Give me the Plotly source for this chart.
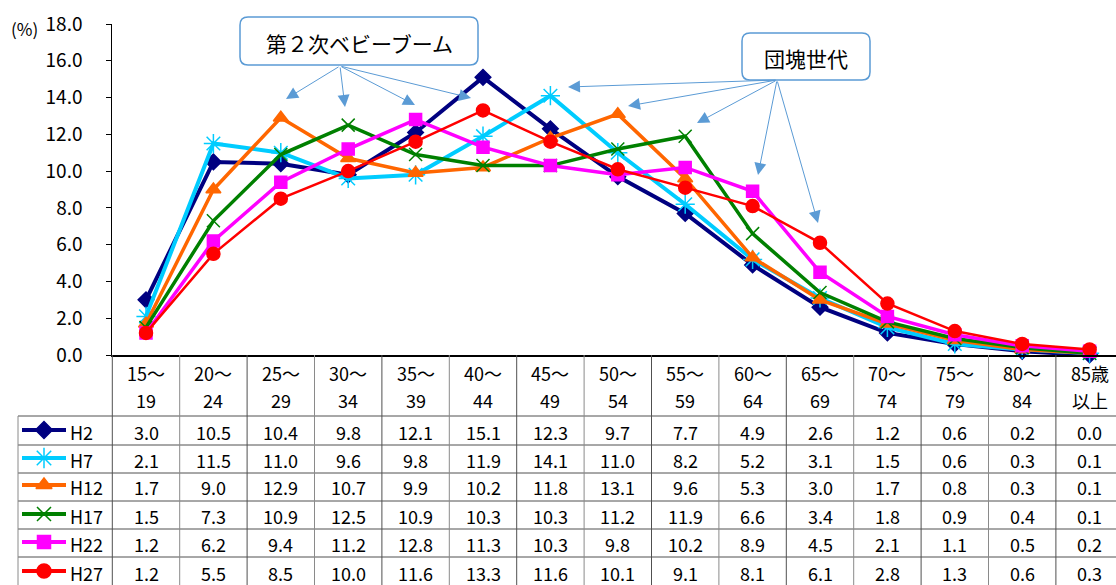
import plotly.graph_objects as go

# ---------------- data ----------------
cat_top = ["15～", "20～", "25～", "30～", "35～", "40～", "45～", "50～",
           "55～", "60～", "65～", "70～", "75～", "80～", "85歳"]
cat_bottom = ["19", "24", "29", "34", "39", "44", "49", "54",
              "59", "64", "69", "74", "79", "84", "以上"]
categories = [a + b for a, b in zip(cat_top, cat_bottom)]

series_names = ["H2", "H7", "H12", "H17", "H22", "H27"]
h2 = [3.0, 10.5, 10.4, 9.8, 12.1, 15.1, 12.3, 9.7, 7.7, 4.9, 2.6, 1.2, 0.6, 0.2, 0.0]
h7 = [2.1, 11.5, 11.0, 9.6, 9.8, 11.9, 14.1, 11.0, 8.2, 5.2, 3.1, 1.5, 0.6, 0.3, 0.1]
h12 = [1.7, 9.0, 12.9, 10.7, 9.9, 10.2, 11.8, 13.1, 9.6, 5.3, 3.0, 1.7, 0.8, 0.3, 0.1]
h17 = [1.5, 7.3, 10.9, 12.5, 10.9, 10.3, 10.3, 11.2, 11.9, 6.6, 3.4, 1.8, 0.9, 0.4, 0.1]
h22 = [1.2, 6.2, 9.4, 11.2, 12.8, 11.3, 10.3, 9.8, 10.2, 8.9, 4.5, 2.1, 1.1, 0.5, 0.2]
h27 = [1.2, 5.5, 8.5, 10.0, 11.6, 13.3, 11.6, 10.1, 9.1, 8.1, 6.1, 2.8, 1.3, 0.6, 0.3]
series_values = [h2, h7, h12, h17, h22, h27]

y_ticks = [0, 2, 4, 6, 8, 10, 12, 14, 16, 18]
y_tick_labels = ["0.0", "2.0", "4.0", "6.0", "8.0", "10.0", "12.0", "14.0", "16.0", "18.0"]

# ---------------- styles ----------------
W, H = 1116, 585
FONT = "Noto Sans CJK JP"
colors = ["#000080", "#00CCFF", "#FF6600", "#008000", "#FF00FF", "#FF0000"]
symbols = ["diamond", "asterisk-open", "triangle-up", "x-thin-open", "square", "circle"]
msizes = [12, 16, 13, 13, 12, 13]
lwidths = [4, 4, 3.5, 3.5, 3.5, 2.5]

PLOT_L, PLOT_T, PLOT_B = 112.3, 24, 355
COL_W = 67.4
PX_PER_UNIT = (PLOT_B - PLOT_T) / 18.0
TFS = 18


def px(x):
    return x / W


def py(y):
    return 1 - y / H


def dx(x):
    return (x - PLOT_L) / COL_W - 0.5


def dy(y):
    return (PLOT_B - y) / PX_PER_UNIT


fig = go.Figure()

for name, vals, c, s, ms, lw in zip(series_names, series_values, colors, symbols, msizes, lwidths):
    fig.add_trace(go.Scatter(
        x=categories, y=vals, mode="lines+markers", name=name,
        line=dict(color=c, width=lw),
        marker=dict(symbol=s, size=ms, color=c, line=dict(color=c, width=1.5)),
        showlegend=False, cliponaxis=False,
    ))

# legend samples in table (pixel-space overlay axes)
row_centers = [432, 460, 487, 516, 544, 573]
for name, c, s, ms, lw, yc in zip(series_names, colors, symbols, msizes, lwidths, row_centers):
    fig.add_trace(go.Scatter(
        x=[22, 44, 66], y=[yc - 2, yc - 2, yc - 2], xaxis="x2", yaxis="y2",
        mode="lines", line=dict(color=c, width=4), showlegend=False, hoverinfo="skip",
    ))
    fig.add_trace(go.Scatter(
        x=[44], y=[yc - 2], xaxis="x2", yaxis="y2", mode="markers",
        marker=dict(symbol=s, size=ms + 1, color=c, line=dict(color=c, width=1.5)),
        showlegend=False, hoverinfo="skip",
    ))

shapes = []
annotations = []

# table grid
row_lines = [416, 445, 473, 501, 529, 557]
for yl in row_lines:
    shapes.append(dict(type="line", xref="paper", yref="paper",
                       x0=px(18), x1=1, y0=py(yl), y1=py(yl),
                       line=dict(color="#505050", width=1)))
for k in range(16):
    xl = PLOT_L + k * COL_W
    if xl > W:
        break
    shapes.append(dict(type="line", xref="paper", yref="paper",
                       x0=px(xl), x1=px(xl), y0=py(PLOT_B), y1=0,
                       line=dict(color="#505050" if k % 2 == 0 else "#8a8a8a", width=1)))
shapes.append(dict(type="line", xref="paper", yref="paper",
                   x0=px(18), x1=px(18), y0=py(416), y1=0,
                   line=dict(color="#8a8a8a", width=1)))

# header and values
for i in range(len(categories)):
    cx = PLOT_L + (i + 0.5) * COL_W
    annotations.append(dict(x=px(cx), y=py(373), xref="paper", yref="paper", text=cat_top[i],
                            showarrow=False, xanchor="center", yanchor="middle",
                            font=dict(size=TFS, color="black", family=FONT)))
    annotations.append(dict(x=px(cx), y=py(400), xref="paper", yref="paper", text=cat_bottom[i],
                            showarrow=False, xanchor="center", yanchor="middle",
                            font=dict(size=TFS, color="black", family=FONT)))
    for vals, yc in zip(series_values, row_centers):
        annotations.append(dict(x=px(cx), y=py(yc), xref="paper", yref="paper",
                                text=f"{vals[i]:.1f}", showarrow=False,
                                xanchor="center", yanchor="middle",
                                font=dict(size=TFS, color="black", family=FONT)))

for name, yc in zip(series_names, row_centers):
    annotations.append(dict(x=px(68), y=py(yc), xref="paper", yref="paper", text=name,
                            showarrow=False, xanchor="left", yanchor="middle",
                            font=dict(size=TFS, color="black", family=FONT)))

# (%) label
annotations.append(dict(x=px(9), y=py(28), xref="paper", yref="paper", text="(%)",
                        showarrow=False, xanchor="left", yanchor="middle",
                        font=dict(size=17, color="black", family=FONT)))


def rounded_rect(x0, y0, x1, y1, r=8):
    rx, ry = r / W, r / H
    X0, X1, Y0, Y1 = px(x0), px(x1), py(y0), py(y1)
    return (f"M {X0 + rx},{Y0} L {X1 - rx},{Y0} Q {X1},{Y0} {X1},{Y0 - ry} "
            f"L {X1},{Y1 + ry} Q {X1},{Y1} {X1 - rx},{Y1} L {X0 + rx},{Y1} "
            f"Q {X0},{Y1} {X0},{Y1 + ry} L {X0},{Y0 - ry} Q {X0},{Y0} {X0 + rx},{Y0} Z")


# arrows
boom_tail = (340, 66)
boom_heads = [(286, 99), (345, 107), (415, 105), (471, 98)]
dankai_tail = (777, 80)
dankai_heads = [(568, 87), (628, 106), (697, 123), (758, 175), (818, 223)]
for tail, heads in [(boom_tail, boom_heads), (dankai_tail, dankai_heads)]:
    for hx, hy in heads:
        annotations.append(dict(x=dx(hx), y=dy(hy), ax=dx(tail[0]), ay=dy(tail[1]),
                                xref="x", yref="y", axref="x", ayref="y", text="",
                                showarrow=True, arrowhead=2, arrowsize=2.4, arrowwidth=1,
                                arrowcolor="#5B9BD5", standoff=0, startstandoff=0))

shapes.append(dict(type="path", xref="paper", yref="paper", path=rounded_rect(240, 17, 478, 65),
                   line=dict(color="#5B9BD5", width=1.5), fillcolor="white"))
shapes.append(dict(type="path", xref="paper", yref="paper", path=rounded_rect(742, 33, 870, 80),
                   line=dict(color="#5B9BD5", width=1.5), fillcolor="white"))
annotations.append(dict(x=px(359), y=py(43), xref="paper", yref="paper", text="第２次ベビーブーム",
                        showarrow=False, xanchor="center", yanchor="middle",
                        font=dict(size=21, color="black", family=FONT)))
annotations.append(dict(x=px(806), y=py(58), xref="paper", yref="paper", text="団塊世代",
                        showarrow=False, xanchor="center", yanchor="middle",
                        font=dict(size=21, color="black", family=FONT)))

fig.update_layout(
    width=W, height=H,
    autosize=False,
    margin=dict(l=0, r=0, t=0, b=0, pad=0, autoexpand=False),
    paper_bgcolor="white", plot_bgcolor="rgba(0,0,0,0)",
    font=dict(family=FONT, color="black"),
    xaxis=dict(domain=[px(PLOT_L), 1], range=[-0.5, (W - PLOT_L) / COL_W - 0.5],
               type="category", categoryorder="array", categoryarray=categories,
               showticklabels=False, ticks="", showgrid=False, zeroline=False,
               showline=True, linecolor="black", linewidth=1.5, anchor="y",
               automargin=False),
    yaxis=dict(domain=[py(PLOT_B), py(PLOT_T)], range=[0, 18], tickvals=y_ticks,
               ticktext=y_tick_labels, ticks="outside", ticklen=5, tickcolor="black",
               showgrid=False, zeroline=False, showline=True, linecolor="black", linewidth=1,
               ticklabelstandoff=20, tickfont=dict(size=19, color="black", family=FONT),
               anchor="x", automargin=False),
    xaxis2=dict(domain=[0, 1], range=[0, W], visible=False, anchor="y2", fixedrange=True,
                automargin=False),
    yaxis2=dict(domain=[0, 1], range=[H, 0], visible=False, anchor="x2", fixedrange=True,
                automargin=False),
    shapes=shapes,
    annotations=annotations,
)

fig.write_html("out.html", config={"displayModeBar": False},
               post_script="document.body.style.margin='0';")
